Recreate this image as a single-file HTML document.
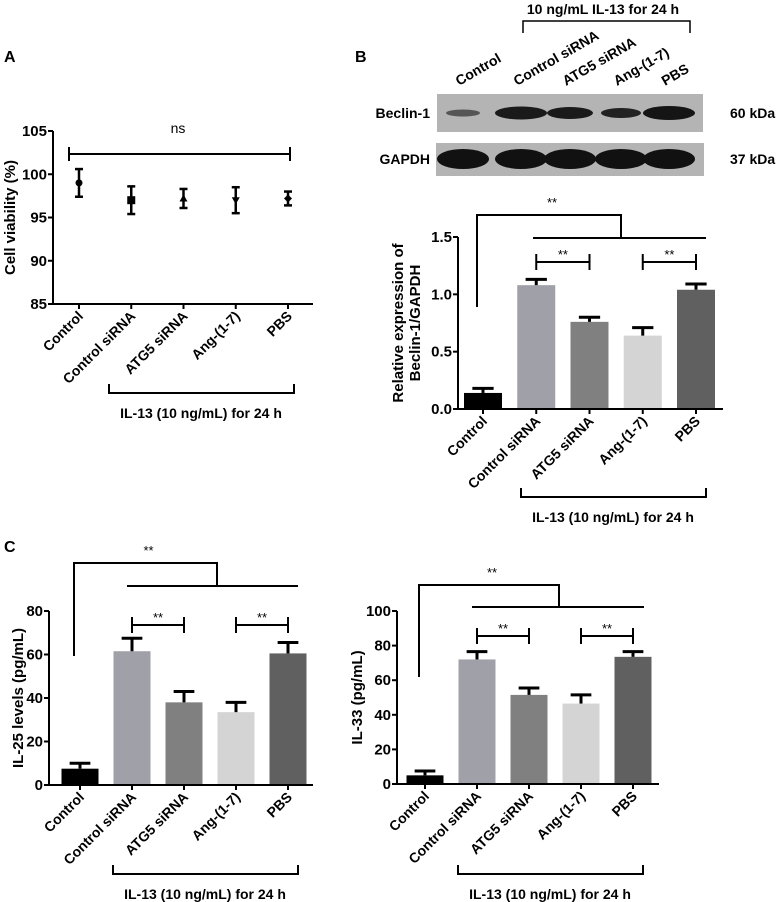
<!DOCTYPE html>
<html><head><meta charset="utf-8"><style>
html,body{margin:0;padding:0;background:#fff;}
svg{display:block;font-family:"Liberation Sans",Arial,sans-serif;font-weight:bold;}
</style></head><body>
<svg id="fig" width="777" height="902" viewBox="0 0 777 902"></svg>
<script>
const categories = ["Control","Control siRNA","ATG5 siRNA","Ang-(1-7)","PBS"];
const viabilityMeans = [99, 97, 97.2, 97, 97.2];
const viabilityErr = [1.6, 1.6, 1.1, 1.5, 0.8];
const viabilityTicks = [85, 90, 95, 100, 105];
const beclinMeans = [0.14, 1.08, 0.76, 0.64, 1.04];
const beclinErr = [0.04, 0.05, 0.04, 0.07, 0.05];
const beclinTicks = [0.0, 0.5, 1.0, 1.5];
const beclinTickLabels = ["0.0","0.5","1.0","1.5"];
const il25Means = [7.5, 61.5, 38, 33.5, 60.5];
const il25Err = [2.5, 6, 5, 4.5, 5];
const il25Ticks = [0, 20, 40, 60, 80];
const il33Means = [5, 72, 51.5, 46.5, 73.5];
const il33Err = [2.5, 4.5, 4, 5, 3];
const il33Ticks = [0, 20, 40, 60, 80, 100];
const barColors = ["#000000","#a0a0a8","#808080","#d4d4d4","#606060"];

const NS = "http://www.w3.org/2000/svg";
const svg = document.getElementById("fig");
function mk(tag, attrs, parent, text){
  const e = document.createElementNS(NS, tag);
  for (const k in attrs) e.setAttribute(k, attrs[k]);
  if (text !== undefined) e.textContent = text;
  (parent || svg).appendChild(e);
  return e;
}
function line(x1,y1,x2,y2,p,w){ return mk("line",{x1,y1,x2,y2,stroke:"#000","stroke-width":w||2},p); }
function path(d,p,w){ return mk("path",{d,fill:"none",stroke:"#000","stroke-width":w||2},p); }

function chart(cfg){
  const g = mk("g",{});
  
  
  const y = v => cfg.y0 - (v - cfg.vmin)/(cfg.vmax - cfg.vmin)*(cfg.y0 - cfg.y1);
  const step = (cfg.xLast - cfg.xFirst)/(categories.length-1);
  const x = i => cfg.xFirst + i*step;
  cfg.means.forEach((m,i)=>{
    const cx = x(i);
    if (cfg.bars){
      const b = mk("rect",{x:cx-cfg.bw/2,y:y(m),width:cfg.bw,height:y(cfg.vmin)-y(m),fill:barColors[i]},g);
      
      
      line(cx,y(m),cx,y(m+cfg.err[i]),g,3);
      line(cx-cfg.bw*0.28,y(m+cfg.err[i]),cx+cfg.bw*0.28,y(m+cfg.err[i]),g,3);
    } else {
      line(cx,y(m-cfg.err[i]),cx,y(m+cfg.err[i]),g,2.5);
      line(cx-4,y(m-cfg.err[i]),cx+4,y(m-cfg.err[i]),g,2.5);
      line(cx-4,y(m+cfg.err[i]),cx+4,y(m+cfg.err[i]),g,2.5);
      let pt;
      if (i===0) pt = mk("circle",{cx,cy:y(m),r:3.5,fill:"#000"},g);
      else if (i===1) pt = mk("rect",{x:cx-4,y:y(m)-4,width:8,height:8,fill:"#000"},g);
      else if (i===2) pt = mk("path",{d:`M${cx-4},${y(m)+3}L${cx+4},${y(m)+3}L${cx},${y(m)-4}Z`,fill:"#000"},g);
      else if (i===3) pt = mk("path",{d:`M${cx-4},${y(m)-3}L${cx+4},${y(m)-3}L${cx},${y(m)+4}Z`,fill:"#000"},g);
      else pt = mk("path",{d:`M${cx},${y(m)-4}L${cx+4},${y(m)}L${cx},${y(m)+4}L${cx-4},${y(m)}Z`,fill:"#000"},g);
      
      
    }
  });
  line(cfg.ax, y(cfg.vmin), cfg.ax, y(cfg.vmax), g, 2);
  line(cfg.ax, y(cfg.vmin), cfg.xEnd, y(cfg.vmin), g, 2);
  cfg.ticks.forEach((t,i)=>{
    line(cfg.ax-5,y(t),cfg.ax,y(t),g,2);
    const tl = mk("text",{x:cfg.ax-6,y:y(t)+5,"text-anchor":"end","font-size":15},g,cfg.tickLabels?cfg.tickLabels[i]:String(t));
    
    
  });
  categories.forEach((c,i)=>{
    const cx = x(i);
    line(cx,y(cfg.vmin),cx,y(cfg.vmin)+5,g,2);
    const tx = cx+5, ty = y(cfg.vmin)+13;
    const t = mk("text",{x:tx,y:ty,"text-anchor":"end","font-size":14,transform:`rotate(-45 ${tx} ${ty})`},g,c);
    
    
  });
  const ym = (cfg.y0+cfg.y1)/2;
  const yt = mk("g",{transform:`translate(${cfg.titleX} ${ym}) rotate(-90)`},g);
  cfg.title.forEach((s,k)=>{
    mk("text",{x:0,y:k*17,"text-anchor":"middle","font-size":15},yt,s);
  });
  
  
  return {x,y,g};
}
function bottomBracket(x1,x2,yb,tx,ty){
  path(`M${x1},${yb-9}L${x1},${yb}L${x2},${yb}L${x2},${yb-9}`);
  const t = mk("text",{x:tx,y:ty,"text-anchor":"middle","font-size":14},svg,"IL-13 (10 ng/mL) for 24 h");
  
  
}
function stars(x,y){ mk("text",{x,y:y+2,"text-anchor":"middle","font-size":13,"font-weight":"normal"},svg,"**"); }
function sigSet(c, top, leftDown, midX, midY, lineX1, lineX2, small1, small2, smallY){
  path(`M${c.x(0)-6},${leftDown}L${c.x(0)-6},${top}L${midX},${top}L${midX},${midY}`);
  line(lineX1,midY,lineX2,midY);
  stars((c.x(0)+midX)/2, top-10);
  [small1, small2].forEach(([a,b])=>{
    path(`M${c.x(a)},${smallY+8}L${c.x(a)},${smallY-8}M${c.x(a)},${smallY}L${c.x(b)},${smallY}M${c.x(b)},${smallY-8}L${c.x(b)},${smallY+8}`);
    stars((c.x(a)+c.x(b))/2, smallY-5);
  });
}

[["A",4,62],["B",355,62],["C",4,552]].forEach(([l,x,y])=>{
  const t = mk("text",{x,y,"font-size":16},svg,l);
  
  
});

// Panel A
const cA = chart({name:"viability-chart",means:viabilityMeans,err:viabilityErr,ticks:viabilityTicks,vmin:85,vmax:105,y0:304,y1:131,ax:53,xEnd:313,xFirst:79,xLast:288,bars:false,title:["Cell viability (%)"],titleX:15});
path(`M69,147L69,161M69,154L290,154M290,147L290,161`);
mk("text",{x:178,y:133,"text-anchor":"middle","font-size":14,"font-weight":"normal"},svg,"ns");
bottomBracket(109,294,393,201,418);

// Panel B blot
mk("text",{x:603,y:14,"text-anchor":"middle","font-size":14},svg,"10 ng/mL IL-13 for 24 h");
path(`M523,33L523,21L690,21L690,33`,null,1.5);
const lanes = [463,521,570,621,669];
const blot = mk("g",{});


mk("rect",{x:437,y:94,width:266,height:38,fill:"#b4b4b4"},blot);
mk("rect",{x:436,y:143,width:268,height:33,fill:"#b4b4b4"},blot);
const beclinW = [34,52,46,40,52], beclinH = [7,13,12,10,14], beclinC=["#555","#1a1a1a","#1a1a1a","#222","#151515"];
lanes.forEach((lx,i)=>{
  mk("ellipse",{cx:lx,cy:113,rx:beclinW[i]/2,ry:beclinH[i]/2,fill:beclinC[i]},blot);
  mk("ellipse",{cx:lx,cy:159,rx:26,ry:10,fill:"#111"},blot);
});
categories.forEach((c,i)=>{
  const tx = lanes[i]-4, ty = 86;
  const t = mk("text",{x:tx,y:ty,"text-anchor":"start","font-size":14,transform:`rotate(-30 ${tx} ${ty})`},svg,c);
  
  
});
mk("text",{x:430,y:118,"text-anchor":"end","font-size":14},svg,"Beclin-1");
mk("text",{x:430,y:164,"text-anchor":"end","font-size":14},svg,"GAPDH");
mk("text",{x:730,y:118,"font-size":14},svg,"60 kDa");
mk("text",{x:730,y:164,"font-size":14},svg,"37 kDa");

// Panel B chart
const cB = chart({name:"beclin-chart",means:beclinMeans,err:beclinErr,ticks:beclinTicks,tickLabels:beclinTickLabels,vmin:0,vmax:1.5,y0:409,y1:237,ax:458,xEnd:723,xFirst:483,xLast:696,bw:38,bars:true,title:["Relative expression of","Beclin-1/GAPDH"],titleX:403});
sigSet(cB,215,307,621,238,533,706,[1,2],[3,4],262);
bottomBracket(521,706,497,613,522);

// Panel C left
const cL = chart({name:"il25-chart",means:il25Means,err:il25Err,ticks:il25Ticks,vmin:0,vmax:80,y0:785,y1:611,ax:49,xEnd:313,xFirst:80,xLast:288,bw:37,bars:true,title:["IL-25 levels (pg/mL)"],titleX:23});
sigSet(cL,563,656,217,586,127,298,[1,2],[3,4],625);
bottomBracket(113,298,874,205,899);

// Panel C right
const cR = chart({name:"il33-chart",means:il33Means,err:il33Err,ticks:il33Ticks,vmin:0,vmax:100,y0:784,y1:611,ax:397,xEnd:659,xFirst:425,xLast:633,bw:37,bars:true,title:["IL-33 (pg/mL)"],titleX:362});
sigSet(cR,585,677,559,607,472,644,[1,2],[3,4],636);
bottomBracket(458,643,874,550,899);
</script>
</body></html>
